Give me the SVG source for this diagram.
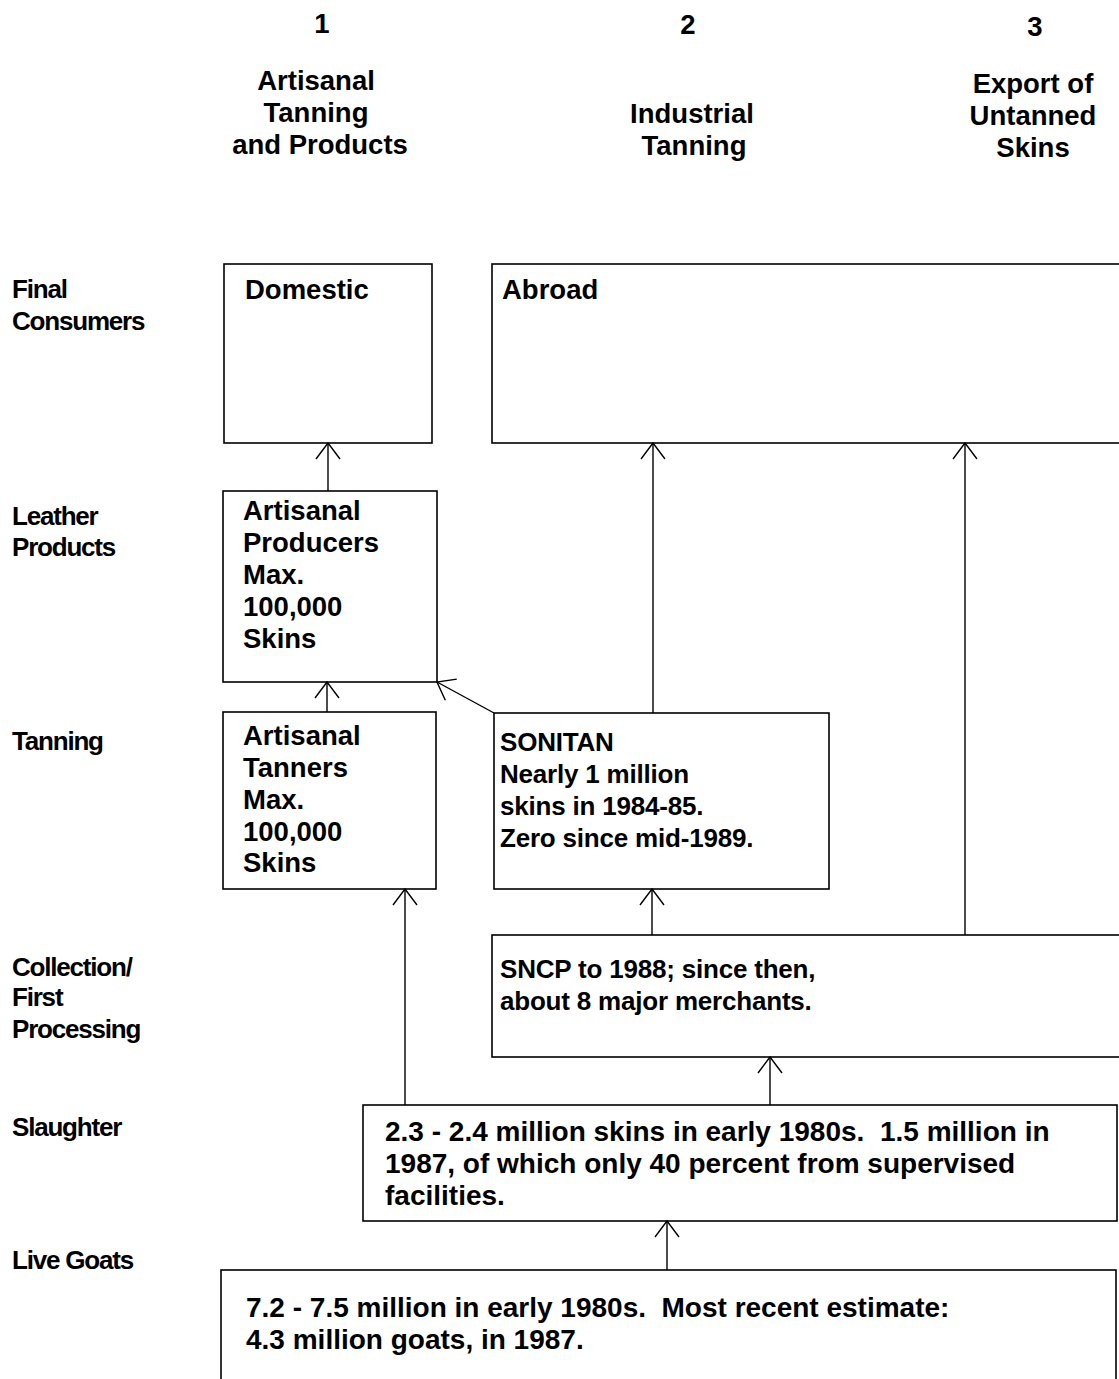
<svg xmlns="http://www.w3.org/2000/svg" width="1119" height="1379" viewBox="0 0 1119 1379">
<defs>
<style>
text{font-family:"Liberation Sans",Arial,sans-serif;font-weight:bold;font-size:27.5px;fill:#000}
.hd{text-anchor:middle}
.rl{font-size:26px;letter-spacing:-1.2px}
.sm{font-size:26px;letter-spacing:-0.2px}
.lg{font-size:28px;white-space:pre}
.box{fill:#fff;stroke:#000;stroke-width:1.6}
.con line{stroke:#000;stroke-width:1.4;fill:none}
</style>
<marker id="ah" viewBox="-20 -15 22 30" refX="0" refY="0" markerWidth="22" markerHeight="30" markerUnits="userSpaceOnUse" orient="auto">
<path d="M-16,-12 L0,0 L-16,12" fill="none" stroke="#000" stroke-width="1.4"/>
</marker>
</defs>
<rect width="1119" height="1379" fill="#fff"/>

<g id="headers">
<text class="hd" x="322" y="33">1</text>
<text class="hd" x="688" y="34">2</text>
<text class="hd" x="1035" y="36">3</text>
<text class="hd" x="316" y="90">Artisanal</text>
<text class="hd" x="316" y="122">Tanning</text>
<text class="hd" x="320" y="154">and Products</text>
<text class="hd" x="692" y="123">Industrial</text>
<text class="hd" x="694" y="155">Tanning</text>
<text class="hd" x="1033" y="93">Export of</text>
<text class="hd" x="1033" y="125">Untanned</text>
<text class="hd" x="1033" y="157">Skins</text>
</g>

<g id="row-labels">
<text class="rl" x="12" y="298">Final</text>
<text class="rl" x="12" y="330">Consumers</text>
<text class="rl" x="12" y="525">Leather</text>
<text class="rl" x="12" y="556">Products</text>
<text class="rl" x="12" y="750">Tanning</text>
<text class="rl" x="12" y="976">Collection/</text>
<text class="rl" x="12" y="1006">First</text>
<text class="rl" x="12" y="1038">Processing</text>
<text class="rl" x="12" y="1136">Slaughter</text>
<text class="rl" x="12" y="1269">Live Goats</text>
</g>

<g id="domestic">
<rect class="box" x="224" y="264" width="208" height="179"/>
<text x="245" y="299">Domestic</text>
</g>

<g id="abroad">
<rect class="box" x="492" y="264" width="640" height="179"/>
<text x="502" y="299">Abroad</text>
</g>

<g id="artisanal-producers">
<rect class="box" x="223" y="491" width="214" height="191"/>
<text x="243" y="520">Artisanal</text>
<text x="243" y="552">Producers</text>
<text x="243" y="584">Max.</text>
<text x="243" y="616">100,000</text>
<text x="243" y="648">Skins</text>
</g>

<g id="artisanal-tanners">
<rect class="box" x="223" y="712" width="213" height="177"/>
<text x="243" y="745">Artisanal</text>
<text x="243" y="777">Tanners</text>
<text x="243" y="809">Max.</text>
<text x="243" y="841">100,000</text>
<text x="243" y="872">Skins</text>
</g>

<g id="sonitan">
<rect class="box" x="494" y="713" width="335" height="176"/>
<text class="sm" x="500" y="751">SONITAN</text>
<text class="sm" x="500" y="783">Nearly 1 million</text>
<text class="sm" x="500" y="815">skins in 1984-85.</text>
<text class="sm" x="500" y="847">Zero since mid-1989.</text>
</g>

<g id="sncp">
<rect class="box" x="492" y="935" width="640" height="122"/>
<text class="sm" x="500" y="978">SNCP to 1988; since then,</text>
<text class="sm" x="500" y="1010">about 8 major merchants.</text>
</g>

<g id="slaughter">
<rect class="box" x="363" y="1105" width="754" height="116"/>
<text class="lg" x="385" y="1141" xml:space="preserve">2.3 - 2.4 million skins in early 1980s.  1.5 million in</text>
<text class="lg" x="385" y="1173">1987, of which only 40 percent from supervised</text>
<text class="lg" x="385" y="1205">facilities.</text>
</g>

<g id="live-goats">
<rect class="box" x="221" y="1270" width="895" height="130"/>
<text class="lg" x="246" y="1317" xml:space="preserve">7.2 - 7.5 million in early 1980s.  Most recent estimate:</text>
<text class="lg" x="246" y="1349">4.3 million goats, in 1987.</text>
</g>

<g id="connectors" class="con">
<line x1="328" y1="491" x2="328" y2="443" marker-end="url(#ah)"/>
<line x1="327" y1="712" x2="327" y2="682" marker-end="url(#ah)"/>
<line x1="494" y1="713" x2="437" y2="682" marker-end="url(#ah)"/>
<line x1="653" y1="713" x2="653" y2="443" marker-end="url(#ah)"/>
<line x1="965" y1="935" x2="965" y2="443" marker-end="url(#ah)"/>
<line x1="652" y1="935" x2="652" y2="889" marker-end="url(#ah)"/>
<line x1="405" y1="1105" x2="405" y2="889" marker-end="url(#ah)"/>
<line x1="770" y1="1105" x2="770" y2="1057" marker-end="url(#ah)"/>
<line x1="667" y1="1270" x2="667" y2="1221" marker-end="url(#ah)"/>
</g>
</svg>
